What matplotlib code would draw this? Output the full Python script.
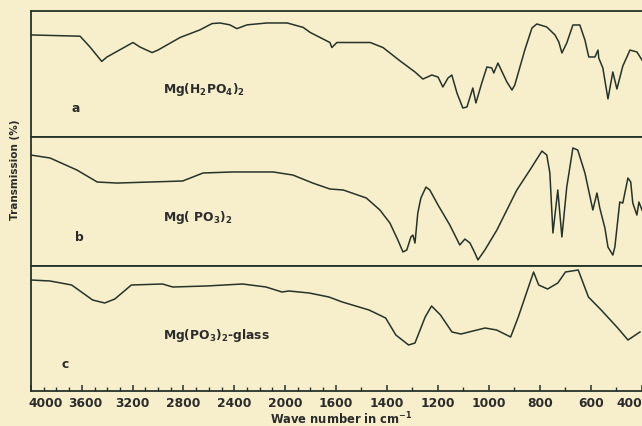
import numpy as np
import matplotlib
matplotlib.use("Agg")
import matplotlib.pyplot as plt
from matplotlib.transforms import ScaledTranslation

# IR spectra: wave number (cm-1) and transmission (%, relative in each panel)
wn_a = [4000, 3615, 3537, 3445, 3404, 3200, 3145, 3050, 3004, 2830, 2675, 2580, 2518, 2440,
        2385, 2305, 2150, 1990, 1865, 1810, 1655, 1640, 1600, 1470, 1420, 1354, 1295, 1264,
        1229, 1205, 1186, 1166, 1151, 1131, 1108, 1092, 1069, 1057, 1034, 1014, 995, 987,
        971, 936, 916, 905, 866, 838, 819, 780, 748, 733, 721, 702, 678, 651, 631, 616,
        592, 580, 577, 561, 541, 522, 506, 483, 455, 428, 408]
tr_a = [81, 80, 71.4, 60, 63.5, 75, 71.4, 67, 69, 79, 85, 90, 90.5, 89,
        86, 89, 90.5, 90.5, 87, 83, 75, 71, 75, 75, 71, 60.5, 51.6, 46.0,
        49.2, 47.6, 39.7, 46.8, 49.2, 34.9, 23.0, 23.8, 38.9, 27.0, 42.9, 55.6, 54.8, 50.8,
        58.7, 43.7, 37.3, 41.3, 69.0, 86.5, 89.7, 87.3, 81.0, 75.4, 66.7, 74.6, 88.9, 88.9, 77.0, 63.5,
        63.5, 69.0, 62.7, 54.8, 30.2, 51.6, 38.1, 56.3, 69.0, 67.5, 61.1]

wn_b = [4000, 3850, 3640, 3480, 3325, 3065, 2810, 2650, 2415, 2100, 1945, 1790, 1655, 1575,
        1485, 1432, 1393, 1362, 1342, 1327, 1311, 1303, 1295, 1284, 1272, 1252, 1237, 1205,
        1159, 1120, 1100, 1080, 1061, 1049, 1022, 975, 897, 846, 799, 780, 768, 756, 737,
        721, 702, 678, 659, 631, 600, 584, 573, 553, 541, 522, 514, 495, 483, 463, 452,
        444, 428, 420, 408]
tr_b = [86, 83.7, 74.4, 65.1, 64.3, 65.1, 65.9, 72.1, 72.9, 72.9, 70.5, 64.3, 59.7, 58.9,
        52.7, 43.4, 33.3, 20.2, 10.9, 12.4, 22.5, 24.0, 17.8, 41.1, 52.7, 61.2, 58.9, 47.3,
        31.8, 16.3, 20.9, 17.8, 10.1, 4.7, 12.4, 27.9, 58.9, 74.4, 89.1, 86.0, 72.1, 25.6, 58.9,
        22.5, 61.2, 91.5, 89.9, 72.1, 43.4, 56.6, 45.0, 29.5, 14.7, 8.5, 14.7, 49.6, 48.8, 68.2, 65.1,
        48.8, 39.5, 49.6, 43.4]

wn_c = [4000, 3850, 3680, 3515, 3420, 3340, 3210, 2965, 2885, 2620, 2335, 2150, 2025, 1970,
        1810, 1655, 1575, 1470, 1405, 1365, 1315, 1290, 1250, 1225, 1190, 1145, 1110, 1015,
        970, 915, 885, 845, 825, 805, 770, 730, 700, 650, 610, 560, 495, 455, 408]
tr_c = [88.8, 88, 84.8, 72.8, 70.4, 73.6, 84.8, 85.6, 83.2, 84, 85.6, 83.2, 79.2, 80,
        78.4, 75.2, 71.2, 64.8, 58.4, 44.8, 36.8, 38.4, 59.2, 68, 60.8, 47.2, 45.6, 50.4,
        48.8, 43.2, 59.2, 83.2, 95.2, 84.8, 81.6, 86.4, 95.2, 96.8, 75.2, 64.8, 50.4, 40.8, 47.2]

compounds = [r"Mg(H$_\mathbf{2}$PO$_\mathbf{4}$)$_\mathbf{2}$",
             r"Mg( PO$_\mathbf{3}$)$_\mathbf{2}$",
             r"Mg(PO$_\mathbf{3}$)$_\mathbf{2}$-glass"]
letters = ["a", "b", "c"]
major_ticks = [4000, 3600, 3200, 2800, 2400, 2000, 1600, 1400, 1200, 1000, 800, 600, 400]
tick_labels = ["4000", "3600", "3200", "2800", "2400", "2000", "1600", "1400", "1200",
               "1000", "800", "600", "400"]

paper = "#f7efcb"
ink = "#26332a"

W, H = 642, 426


# grating spectrometer axis: scale doubles below 1600 cm-1
def fwd(w):
    w = np.asarray(w, dtype=float)
    g = np.where(w >= 1600, (4000 - w) * 0.1275, 306 + (1600 - w) * 0.256)
    return -g


def inv(u):
    g = -np.asarray(u, dtype=float)
    return np.where(g <= 306, 4000 - g / 0.1275, 1600 - (g - 306) / 0.256)


def px(x, y):
    return x / W, 1 - y / H


fig = plt.figure(figsize=(W / 100, H / 100), dpi=100, facecolor=paper)
gs = fig.add_gridspec(3, 1, height_ratios=[126, 129, 125], hspace=0,
                      left=31 / W, right=1.0, top=1 - 11 / H, bottom=1 - 391 / H)

spectra = [(wn_a, tr_a), (wn_b, tr_b), (wn_c, tr_c)]
axes = []
for i, (wn, tr) in enumerate(spectra):
    ax = fig.add_subplot(gs[i])
    ax.set_facecolor(paper)
    ax.set_xscale("function", functions=(fwd, inv))
    ax.plot(wn, tr, color=ink, lw=1.1, solid_joinstyle="round")
    ax.set_xlim(4000, 408)
    ax.set_ylim(0, 100)
    ax.set_yticks([])
    for s in ["left", "top", "bottom"]:
        ax.spines[s].set_color(ink)
        ax.spines[s].set_linewidth(1.3)
    ax.spines["right"].set_visible(False)
    if i < 2:
        ax.set_xticks([])
    axes.append(ax)

ax = axes[2]
ax.set_xticks(major_ticks)
ax.set_xticklabels(tick_labels)
minor = list(range(3900, 1600, -100)) + list(range(1500, 400, -200))
ax.set_xticks(minor, minor=True)
ax.tick_params(axis="x", which="major", direction="in", length=4.5, width=1.1,
               color=ink, labelsize=8.8, labelcolor="#2b2b2b", pad=4)
ax.tick_params(axis="x", which="minor", direction="in", length=3, width=1.0, color=ink)
labs = ax.get_xticklabels()
for lab in labs:
    lab.set_fontweight("bold")
labs[0].set_horizontalalignment("left")
labs[0].set_transform(labs[0].get_transform() + ScaledTranslation(-3 / 100, 0, fig.dpi_scale_trans))
labs[1].set_transform(labs[1].get_transform() + ScaledTranslation(3 / 100, 0, fig.dpi_scale_trans))
labs[-1].set_horizontalalignment("right")

# panel labels
txt = dict(color="#2b2b2b", fontweight="bold", fontsize=8.8)
fig.text(*px(163, 90), compounds[0], va="center", **txt)
fig.text(*px(72, 108), letters[0], va="center", **txt)
fig.text(*px(163, 217), compounds[1], va="center", **txt)
fig.text(*px(75, 238), letters[1], va="center", **txt)
fig.text(*px(163, 336), compounds[2], va="center", **txt)
fig.text(*px(62, 365), letters[2], va="center", **txt)

fig.text(*px(15, 170), "Transmission (%)", rotation=90, ha="center", va="center",
         color="#2b2b2b", fontweight="bold", fontsize=7.5)
fig.text(*px(341, 419), r"Wave number in cm$^{\mathbf{-1}}$", ha="center", va="center",
         color="#2b2b2b", fontweight="bold", fontsize=8.3)

fig.savefig("out.png", dpi=100, facecolor=paper)
